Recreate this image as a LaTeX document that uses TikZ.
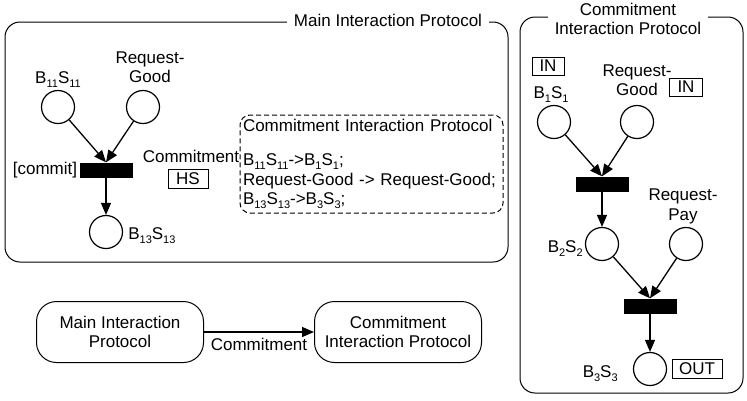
\documentclass[tikz,border=0pt]{standalone}
\usepackage{fontspec}
\setmainfont{Liberation Sans}
\usepackage{tikz}
\usetikzlibrary{arrows.meta,positioning}

\newcommand{\lowsub}[1]{\raisebox{-0.45ex}{\fontsize{11}{11}\selectfont #1}}

\begin{document}
\begin{tikzpicture}[
  x=1pt, y=-1pt,
  font=\fontsize{17}{19.5}\selectfont,
  place/.style={circle, draw, line width=1.2pt, minimum size=33pt, inner sep=0pt},
  trans/.style={rectangle, fill=black, minimum width=53pt, minimum height=15pt, inner sep=0pt},
  protoframe/.style={rectangle, rounded corners=15pt, draw, line width=1pt, inner sep=0pt},
  frametitle/.style={fill=white, align=center, inner xsep=7pt, inner ysep=1pt},
  tag/.style={rectangle, draw, line width=1pt, minimum height=18pt, inner sep=3pt},
  lbl/.style={align=center, inner sep=1pt},
  proto/.style={rectangle, rounded corners=20pt, draw, line width=1pt, align=center, minimum width=167pt, minimum height=61pt},
  arrow/.style={-{Triangle[length=12pt, width=10pt]}, line width=1.3pt}
]
\useasboundingbox (0,0) rectangle (747,400);

% main interaction protocol
\node[protoframe, minimum width=503pt, minimum height=240pt] (mainframe) at (256.5,142) {};
\node[frametitle] (maintitle) at (388,20) {Main Interaction Protocol};

\node[place] (b11s11) at (58,107) {};
\node[place] (reqgood) at (143,107) {};
\node[trans] (commit) at (106,170) {};
\node[place] (b13s13) at (106,232) {};

\node[lbl, above=1pt of b11s11] (b11s11lbl) {B\lowsub{11}S\lowsub{11}};
\node[lbl, above=6pt of reqgood, xshift=7pt] (reqgoodlbl) {Request-\\Good};
\node[lbl, left=1pt of commit] (commitlbl) {[commit]};
\node[lbl, right=4pt of b13s13, yshift=-4pt] (b13s13lbl) {B\lowsub{13}S\lowsub{13}};

\node[lbl] (commitname) at (191,156) {Commitment};
\node[tag, minimum width=40pt] (hs) at (188,179) {HS};

\node[draw, dash pattern=on 5pt off 3pt, line width=1pt, rounded corners=10pt, align=left,
  text width=257pt, inner sep=3pt, minimum height=98pt] (cipnote) at (371.5,164)
  {Commitment Interaction Protocol\\[15pt]
   B\lowsub{11}S\lowsub{11}->B\lowsub{1}S\lowsub{1};\\
   Request-Good -> Request-Good;\\
   B\lowsub{13}S\lowsub{13}->B\lowsub{3}S\lowsub{3};};

\draw[arrow] (b11s11) -- (commit.north);
\draw[arrow] (reqgood) -- (commit.north);
\draw[arrow] (commit) -- (b13s13);

% commitment interaction protocol
\node[protoframe, minimum width=223pt, minimum height=376pt] (cipframe) at (631.5,205) {};
\node[frametitle] (ciptitle) at (628,19) {Commitment\\Interaction Protocol};

\node[place] (b1s1) at (554,122) {};
\node[place] (reqgood2) at (637,122) {};
\node[trans] (fire1) at (602,184) {};
\node[place] (b2s2) at (602,244) {};
\node[place] (reqpay) at (686,244) {};
\node[trans] (fire2) at (650,306) {};
\node[place] (b3s3) at (650,369) {};

\node[lbl, above=1pt of b1s1, xshift=-3pt] (b1s1lbl) {B\lowsub{1}S\lowsub{1}};
\node[tag, minimum width=32pt] (in1) at (548,66) {IN};
\node[lbl, above=8pt of reqgood2] (reqgood2lbl) {Request-\\Good};
\node[tag, minimum width=33pt] (in2) at (686,87) {IN};
\node[lbl, above=2pt of reqpay, xshift=-3pt] (reqpaylbl) {Request-\\Pay};
\node[lbl, left=1pt of b2s2, yshift=-5pt] (b2s2lbl) {B\lowsub{2}S\lowsub{2}};
\node[lbl, left=14pt of b3s3, yshift=-5pt] (b3s3lbl) {B\lowsub{3}S\lowsub{3}};
\node[tag, minimum width=50pt, right=4.5pt of b3s3] (out) {OUT};

\draw[arrow] (b1s1) -- (fire1.north);
\draw[arrow] (reqgood2) -- (fire1.north);
\draw[arrow] (fire1) -- (b2s2);
\draw[arrow] (b2s2) -- (fire2.north);
\draw[arrow] (reqpay) -- (fire2.north);
\draw[arrow] (fire2) -- (b3s3);

% overview
\node[proto] (mainproto) at (120,332) {Main Interaction\\Protocol};
\node[proto, right=110pt of mainproto] (cipproto) {Commitment\\Interaction Protocol};
\draw[arrow] (mainproto) -- node[lbl, below=5pt] (commitarrow) {Commitment} (cipproto);

\end{tikzpicture}
\end{document}
